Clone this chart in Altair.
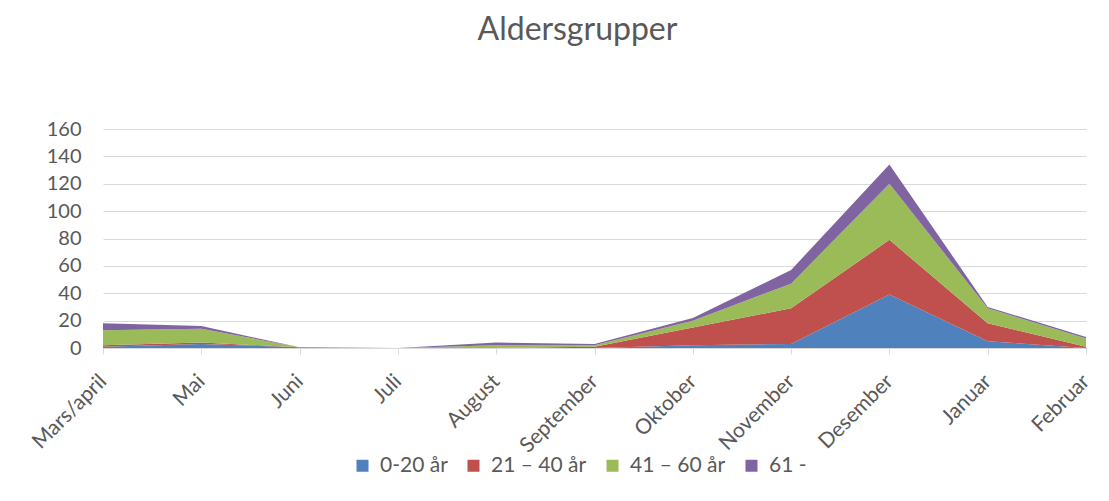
import altair as alt
import pandas as pd

months = ["Mars/april", "Mai", "Juni", "Juli", "August", "September",
          "Oktober", "November", "Desember", "Januar", "Februar"]
series = ["0-20 år", "21 – 40 år", "41 – 60 år", "61 -"]
v0_20 = [1, 3, 0.5, 0, 0, 0, 2, 3, 39, 5, 0]
v21_40 = [1, 1, 0, 0, 0, 1, 13, 26, 40, 13, 1]
v41_60 = [11, 10, 0, 0, 2, 1, 5, 18, 41, 11, 6]
v61 = [5, 2, 0, 0, 2, 1, 2, 10, 14, 1, 1]
colors = ["#4F81BD", "#C0504D", "#9BBB59", "#8064A2"]

rows = []
for si, (name, vals) in enumerate(zip(series, [v0_20, v21_40, v41_60, v61])):
    for m, v in zip(months, vals):
        rows.append({"Måned": m, "Gruppe": name, "Antall": v, "idx": si})
df = pd.DataFrame(rows)

FONT = "Lato"
GREY = "#595959"

chart = alt.Chart(df).mark_area(opacity=1).encode(
    x=alt.X("Måned:N", sort=months,
            scale=alt.Scale(type="point", padding=0),
            axis=alt.Axis(title=None, labelAngle=-45, labelAlign="right",
                          labelBaseline="middle", labelPadding=24,
                          labelFontSize=21, labelColor=GREY, labelFont=FONT,
                          domainColor="#D9D9D9", tickColor="#D9D9D9",
                          tickSize=6, grid=False)),
    y=alt.Y("Antall:Q", stack="zero",
            scale=alt.Scale(domain=[0, 160]),
            axis=alt.Axis(title=None, values=list(range(0, 161, 20)),
                          labelFontSize=20, labelColor=GREY, labelFont=FONT,
                          labelPadding=22, domain=False, ticks=False,
                          gridColor="#D9D9D9", gridWidth=1)),
    color=alt.Color("Gruppe:N", sort=series,
                    scale=alt.Scale(domain=series, range=colors),
                    legend=alt.Legend(title=None, orient="none", direction="horizontal",
                                      legendX=249, legendY=326,
                                      symbolType="square", symbolSize=144,
                                      symbolStrokeWidth=0, labelOffset=7,
                                      columnPadding=15, padding=0,
                                      labelFontSize=21, labelColor=GREY,
                                      labelFont=FONT)),
    order=alt.Order("idx:Q", sort="ascending"),
).properties(
    width=983, height=219,
    title=alt.TitleParams("Aldersgrupper", fontSize=32, font=FONT, color=GREY,
                          fontWeight="normal", anchor="middle", dx=-17,
                          offset=47, baseline="alphabetic"),
    autosize=alt.AutoSizeParams(type="none"),
    padding={"left": 95, "top": 121, "right": 15, "bottom": 140},
).configure_view(stroke=None)

chart.save("out.html", embed_options={"renderer": "svg", "actions": False})
